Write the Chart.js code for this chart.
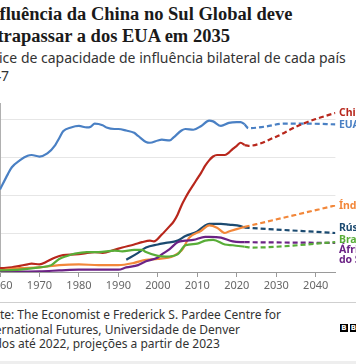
<!DOCTYPE html>
<html><head><meta charset="utf-8">
<script src="https://cdn.jsdelivr.net/npm/chart.js@4/dist/chart.umd.min.js"></script>
<style>
html,body{margin:0;padding:0;background:#fff;width:356px;height:364px;overflow:hidden;position:relative;}
.t{position:absolute;white-space:nowrap;}
#title{left:-18px;top:4px;font-family:"Liberation Serif",serif;font-weight:bold;font-size:18.5px;line-height:21.5px;color:#1a1a1a;}
#sub{left:-23px;top:49px;font-family:"Noto Sans",sans-serif;font-size:14px;line-height:18px;color:#333;}
#foot{left:-21px;top:308px;font-family:"Noto Sans",sans-serif;font-size:12px;line-height:14.5px;color:#333;}
#sep{position:absolute;left:0;top:302px;width:356px;height:1px;background:#cfcfcf;}
#band{position:absolute;left:0;top:361px;width:356px;height:3px;background:#eeeeee;}
#wrap{position:absolute;left:-40px;top:92px;width:420px;height:205px;}
#logo{position:absolute;left:340px;top:324px;white-space:nowrap;font:bold 7px "DejaVu Sans",sans-serif;}
#logo span{display:inline-block;width:8px;height:8px;background:#000;color:#fff;text-align:center;line-height:8px;margin-right:1.5px;}
</style></head>
<body>
<div id="title" class="t">Influência da China no Sul Global deve<br>ultrapassar a dos EUA em 2035</div>
<div id="sub" class="t">Índice de capacidade de influência bilateral de cada país<br>2047</div>
<div id="wrap"><canvas id="c"></canvas></div>
<div id="sep"></div>
<div id="foot" class="t">Fonte: The Economist e Frederick S. Pardee Centre for<br>International Futures, Universidade de Denver<br>Dados até 2022, projeções a partir de 2023</div>
<div id="logo"><span>B</span><span>B</span><span>C</span></div>
<div id="band"></div>
<script>
// ---- data ----
const tickYears = [1960,1970,1980,1990,2000,2010,2020,2030,2040];
const gridValues = [0,5,10,15,20];

const usaYears = [1960,1962,1963,1965,1967,1968,1970,1972,1974,1975,1976,1978,1980,1982,1983,1984,1986,1987,1989,1990,1992,1994,1995,1997,1998,2000,2001,2003,2004,2006,2007,2009,2011,2013,2014,2016,2018,2020,2021,2022];
const usaValues = [10.8,12.8,13.7,14.6,15.2,15.3,15.1,15.5,16.6,17.5,18.4,18.9,19.1,18.9,19.0,19.4,19.2,18.9,18.7,18.7,18.5,18.2,17.8,17.0,16.9,17.2,17.3,17.2,17.6,18.5,18.7,18.6,19.1,19.8,19.7,19.1,19.5,19.6,19.6,19.3];
const usaProjYears = [2022,2023,2027,2032,2038,2045];
const usaProjValues = [19.3,18.8,19.0,19.4,19.4,19.3];

const chinaYears = [1960,1963,1965,1967,1968,1970,1972,1974,1976,1979,1981,1984,1986,1989,1991,1994,1996,1998,1999,2001,2003,2004,2005,2006,2007,2008,2009,2010,2011,2012,2013,2014,2015,2016,2017,2018,2019,2020,2021,2022];
const chinaValues = [0.5,0.6,0.8,1.0,1.1,1.0,1.4,1.9,2.2,2.3,2.4,2.6,2.5,2.9,3.2,3.6,3.9,4.1,4.0,4.9,6.0,6.6,7.5,8.7,9.7,10.6,11.4,12.2,13.0,13.9,14.6,15.1,15.3,15.3,15.3,15.6,16.1,16.5,16.9,16.6];
const chinaProjYears = [2022,2023,2030,2035,2040,2045];
const chinaProjValues = [16.6,16.5,17.7,19.0,20.0,20.8];

const indiaYears = [1960,1965,1970,1975,1980,1985,1990,1994,1997,2000,2004,2006,2008,2011,2013,2015,2017,2018,2020,2022];
const indiaValues = [0.2,0.5,0.6,0.9,1.0,0.9,0.9,1.2,1.6,1.7,2.1,2.8,4.5,5.4,6.1,5.8,5.1,5.3,5.6,5.9];
const indiaProjYears = [2022,2045];
const indiaProjValues = [5.9,8.7];

const russiaYears = [1992,1995,1997,2000,2002,2005,2007,2010,2012,2013,2016,2018,2021,2022];
const russiaValues = [1.6,2.5,3.2,3.6,3.8,4.1,4.7,5.3,6.1,6.3,6.3,6.2,6.0,5.8];
const russiaProjYears = [2022,2045];
const russiaProjValues = [5.8,5.1];

const brazilYears = [1960,1965,1970,1973,1975,1977,1979,1982,1985,1989,1991,1994,1996,1997,2000,2002,2005,2007,2010,2012,2014,2017,2019,2022];
const brazilValues = [0.2,0.3,0.6,0.9,1.7,2.1,2.4,2.6,2.6,2.8,2.7,2.9,2.9,2.6,2.1,2.0,2.3,3.5,3.7,4.1,4.2,3.6,3.5,3.3];
const brazilProjYears = [2022,2024,2045];
const brazilProjValues = [3.3,3.2,3.9];

const safricaYears = [1960,1970,1975,1980,1990,1992,1995,1997,2000,2001,2003,2005,2007,2009,2012,2013,2016,2019,2022];
const safricaValues = [0.05,0.1,0.2,0.3,0.3,0.6,0.9,1.4,1.9,2.3,3.0,3.9,4.1,4.2,4.6,4.6,4.5,4.0,3.9];
const safricaProjYears = [2022,2045];
const safricaProjValues = [3.9,3.8];

const seriesNames = ["China","EUA","Índia","Rússia","Brasil","África\ndo Sul"];

// ---- styling ----
const series = [
  {name: seriesNames[0], color:"#b8271c", y:chinaYears, v:chinaValues, py:chinaProjYears, pv:chinaProjValues, dy:0},
  {name: seriesNames[1], color:"#4a80c4", y:usaYears, v:usaValues, py:usaProjYears, pv:usaProjValues, dy:1},
  {name: seriesNames[2], color:"#f2873a", y:indiaYears, v:indiaValues, py:indiaProjYears, pv:indiaProjValues, dy:1},
  {name: seriesNames[3], color:"#1b4a70", y:russiaYears, v:russiaValues, py:russiaProjYears, pv:russiaProjValues, dy:-5},
  {name: seriesNames[4], color:"#58ad38", y:brazilYears, v:brazilValues, py:brazilProjYears, pv:brazilProjValues, dy:-2},
  {name: seriesNames[5], color:"#6b2285", y:safricaYears, v:safricaValues, py:safricaProjYears, pv:safricaProjValues, dy:7}
];
const zip = (xs, vs) => xs.map((x,i)=>({x:x, y:vs[i]}));
const datasets = [];
[4,5,2,3,0,1].forEach(i=>{
  const s = series[i];
  datasets.push({data:zip(s.y,s.v), borderColor:s.color, borderWidth:2.2, pointRadius:0, cubicInterpolationMode:'monotone', fill:false});
  datasets.push({data:zip(s.py,s.pv), borderColor:s.color, borderWidth:2.2, borderDash:[5,3], pointRadius:0, cubicInterpolationMode:'monotone', fill:false});
});

const endLabels = {
  id:'endLabels',
  afterDatasetsDraw(chart){
    const ctx = chart.ctx, ys = chart.scales.y, area = chart.chartArea;
    ctx.save();
    ctx.font = 'bold 10.5px "Noto Sans", sans-serif';
    ctx.textBaseline = 'middle';
    ctx.textAlign = 'left';
    series.forEach(s=>{
      const last = s.pv[s.pv.length-1];
      const yp = ys.getPixelForValue(last) + s.dy;
      ctx.fillStyle = s.color;
      s.name.split("\n").forEach((line,k)=>{
        ctx.fillText(line, area.right + 3.5, yp + k*10);
      });
    });
    ctx.restore();
  }
};

new Chart(document.getElementById('c'), {
  type:'line',
  data:{datasets},
  options:{
    responsive:true, maintainAspectRatio:false, animation:false,
    layout:{padding:{left:40, right:44.6, top:11, bottom:0}},
    plugins:{legend:{display:false}, tooltip:{enabled:false}},
    scales:{
      x:{type:'linear', min:1960, max:2045,
        afterBuildTicks: s => { s.ticks = tickYears.map(v=>({value:v})); },
        afterFit: s => { s.height = 25; },
        grid:{drawOnChartArea:false, drawTicks:true, tickLength:5, color:'#9a9a9a'},
        border:{display:true, color:'#9a9a9a', width:1},
        ticks:{color:'#666', font:{family:'"Noto Sans", sans-serif', size:11}, padding:2, maxRotation:0, autoSkip:false, callback:v=>String(v)}
      },
      y:{type:'linear', min:0, max:22.1,
        afterBuildTicks: s => { s.ticks = gridValues.map(v=>({value:v})); },
        afterFit: s => { s.width = 0; },
        grid:{color:'#e6e6e6', drawTicks:false, lineWidth:1},
        border:{display:true, color:'#b0b0b0'},
        ticks:{display:false}
      }
    }
  },
  plugins:[endLabels]
});
</script>
</body></html>
